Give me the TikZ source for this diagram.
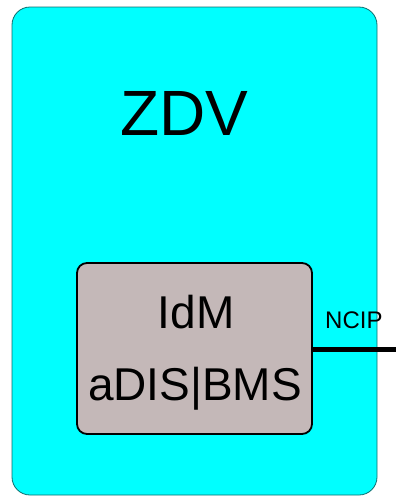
\documentclass[tikz,border=0pt]{standalone}
\usepackage{fontspec}
\setmainfont{Liberation Sans}
\definecolor{zdvfill}{HTML}{00FFFF}
\definecolor{zdvline}{HTML}{0E6E6E}
\definecolor{idmfill}{HTML}{C4B8B8}
\begin{document}
\begin{tikzpicture}[x=1pt,y=-1pt,
  outerbox/.style={draw=zdvline,line width=0.8pt,fill=zdvfill,rounded corners=18pt},
  innerbox/.style={draw=black,line width=1.8pt,fill=idmfill,rounded corners=10pt},
  lbl/.style={inner sep=0pt,anchor=base,text=black}]
\useasboundingbox (0,0) rectangle (396,496);
\draw[outerbox] (12,7) rectangle (377,495);
\node[lbl,font=\fontsize{64}{64}\selectfont] (zdv) at (184,135) {ZDV};
\draw[innerbox] (77,263) rectangle (312,434);
\coordinate (boxE) at (312,349);
\coordinate (free) at (396,349);
\node[lbl,font=\fontsize{46}{46}\selectfont] (idm) at (196,328) {IdM};
\node[lbl,font=\fontsize{46}{46}\selectfont] (adis) at (195,400) {aDIS|BMS};
\node[lbl,anchor=base west,font=\fontsize{24}{24}\selectfont] (ncip) at (325,328) {NCIP};
\draw[line width=5pt] (boxE) -- (free);
\end{tikzpicture}
\end{document}
